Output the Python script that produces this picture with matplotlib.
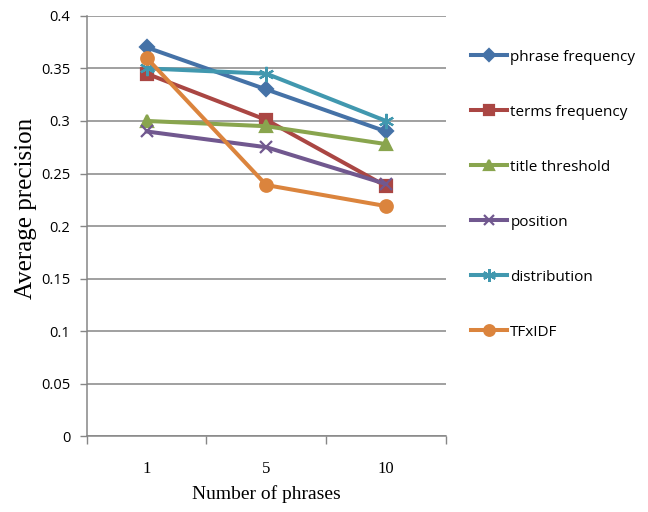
import matplotlib.pyplot as plt

# average precision per feature for 1, 5 and 10 extracted phrases
categories = ["1", "5", "10"]
phrase_freq = [0.370, 0.330, 0.290]
terms_freq = [0.345, 0.301, 0.238]
title_thresh = [0.300, 0.295, 0.278]
position = [0.290, 0.275, 0.240]
distribution = [0.350, 0.345, 0.300]
tfxidf = [0.360, 0.239, 0.219]

series = [
    ("phrase frequency", phrase_freq,  "#4572A7", "D", 7.5),
    ("terms frequency",  terms_freq,   "#AA4643", "s", 9),
    ("title threshold",  title_thresh, "#89A54E", "^", 9),
    ("position",         position,     "#71588F", "x", 9),
    ("distribution",     distribution, "#4198AF", (6, 2, 0), 11),
    ("TFxIDF",           tfxidf,       "#DB843D", "o", 9),
]

sans = ["Open Sans", "DejaVu Sans"]
serif = ["Liberation Serif", "DejaVu Serif"]
grid_col = "#868686"

fig = plt.figure(figsize=(6.48, 5.12), dpi=100)
ax = fig.add_axes([0.134, 0.148, 0.554, 0.821])

xs = range(len(categories))
for label, vals, col, mk, ms in series:
    ax.plot(xs, vals, color=col, lw=2.9, marker=mk, ms=ms,
            mew=1.6, mec=col, mfc=col, label=label, zorder=3)

ax.set_ylim(0, 0.4)
ax.set_yticks([i * 0.05 for i in range(9)])
ax.set_yticklabels(["0", "0.05", "0.1", "0.15", "0.2", "0.25", "0.3", "0.35", "0.4"],
                   family=sans, fontsize=10.5)
ax.set_xlim(-0.5, 2.5)
ax.set_xticks(list(xs))
ax.set_xticklabels(categories, family=serif, fontsize=12)
ax.set_xticks([-0.5, 0.5, 1.5, 2.5], minor=True)
ax.tick_params(axis="x", which="major", length=0, pad=18)
ax.tick_params(axis="x", which="minor", length=6, color=grid_col, width=1)
ax.tick_params(axis="y", length=5, color=grid_col, width=1, pad=7)

ax.yaxis.grid(True, color=grid_col, lw=1.1)
ax.set_axisbelow(True)
for s in ("top", "right"):
    ax.spines[s].set_visible(False)
for s in ("left", "bottom"):
    ax.spines[s].set_color(grid_col)
    ax.spines[s].set_linewidth(1.1)

ax.set_ylabel("Average precision", family=serif, fontsize=18)
ax.yaxis.set_label_coords(-0.14, 0.543)
ax.set_xlabel("Number of phrases", family=serif, fontsize=14, labelpad=6)

fig.legend(loc="upper left", bbox_to_anchor=(0.705, 0.93), frameon=False,
           prop={"family": sans, "size": 11}, labelspacing=2.62,
           handlelength=2.4, handletextpad=0.2, markerscale=0.85)

fig.savefig("out.png", dpi=100)
